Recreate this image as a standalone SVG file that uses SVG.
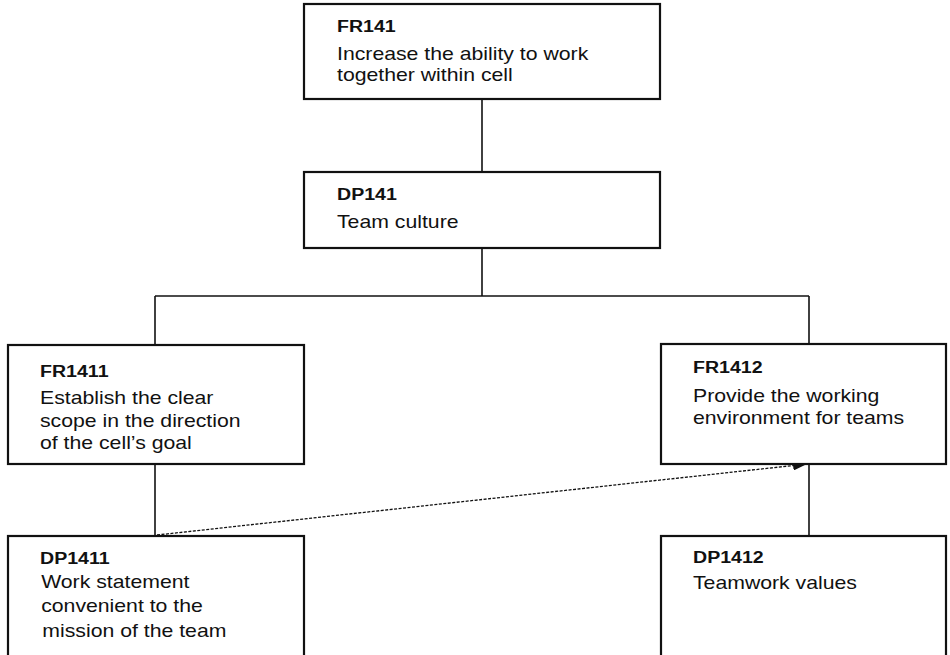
<svg xmlns="http://www.w3.org/2000/svg" width="950" height="655" viewBox="0 0 950 655">
  <style>
    .box { fill: #ffffff; stroke: #111111; stroke-width: 2.2; }
    .link { fill: none; stroke: #111111; stroke-width: 1.6; }
    .trace { fill: none; stroke: #111111; stroke-width: 1.3; stroke-dasharray: 3 1.5; }
    text { font-family: "Liberation Sans", Arial, Helvetica, sans-serif; fill: #111111; }
    .id { font-size: 16.6px; font-weight: bold; }
    .body { font-size: 18px; }
  </style>
  <defs>
    <marker id="arrow" viewBox="0 0 14 10" refX="14" refY="5" markerWidth="14" markerHeight="10" markerUnits="userSpaceOnUse" orient="auto">
      <path d="M0,0 L14,5 L0,10 Z" fill="#111111"/>
    </marker>
  </defs>

  <!-- connectors -->
  <g id="connectors">
    <line class="link" x1="482" y1="99" x2="482" y2="172"/>
    <line class="link" x1="482" y1="248" x2="482" y2="296"/>
    <line class="link" x1="155" y1="296" x2="809" y2="296"/>
    <line class="link" x1="155" y1="296" x2="155" y2="345"/>
    <line class="link" x1="809" y1="296" x2="809" y2="344"/>
    <line class="link" x1="155" y1="464" x2="155" y2="536"/>
    <line class="link" x1="809" y1="464" x2="809" y2="536"/>
    <line class="trace" x1="157" y1="535" x2="807" y2="464" marker-end="url(#arrow)"/>
  </g>

  <!-- FR141 -->
  <g id="FR141">
    <rect class="box" x="304" y="4" width="356" height="95"/>
    <g transform="matrix(1.18,0,0,1,337,0)">
      <text class="id" x="0" y="32.5">FR141</text>
      <text class="body" x="0" y="60">Increase the ability to work</text>
      <text class="body" x="0" y="81.5">together within cell</text>
    </g>
  </g>

  <!-- DP141 -->
  <g id="DP141">
    <rect class="box" x="304" y="172" width="356" height="76"/>
    <g transform="matrix(1.18,0,0,1,337,0)">
      <text class="id" x="0" y="200">DP141</text>
      <text class="body" x="0" y="228">Team culture</text>
    </g>
  </g>

  <!-- FR1411 -->
  <g id="FR1411">
    <rect class="box" x="8" y="345" width="296" height="119"/>
    <g transform="matrix(1.18,0,0,1,40,0)">
      <text class="id" x="0" y="377.5">FR1411</text>
      <text class="body" x="0" y="404">Establish the clear</text>
      <text class="body" x="0" y="427">scope in the direction</text>
      <text class="body" x="0" y="449.5">of the cell’s goal</text>
    </g>
  </g>

  <!-- FR1412 -->
  <g id="FR1412">
    <rect class="box" x="661" y="344" width="285" height="120"/>
    <g transform="matrix(1.18,0,0,1,693,0)">
      <text class="id" x="0" y="373.5">FR1412</text>
      <text class="body" x="0" y="402">Provide the working</text>
      <text class="body" x="0" y="424">environment for teams</text>
    </g>
  </g>

  <!-- DP1411 -->
  <g id="DP1411">
    <rect class="box" x="8" y="536" width="296" height="130"/>
    <g transform="matrix(1.18,0,0,1,40,0)">
      <text class="id" x="0" y="564">DP1411</text>
      <text class="body" x="1" y="588">Work statement</text>
      <text class="body" x="1" y="612">convenient to the</text>
      <text class="body" x="2" y="637">mission of the team</text>
    </g>
  </g>

  <!-- DP1412 -->
  <g id="DP1412">
    <rect class="box" x="661" y="536" width="285" height="130"/>
    <g transform="matrix(1.18,0,0,1,693,0)">
      <text class="id" x="0" y="563.5">DP1412</text>
      <text class="body" x="0" y="589">Teamwork values</text>
    </g>
  </g>
</svg>
